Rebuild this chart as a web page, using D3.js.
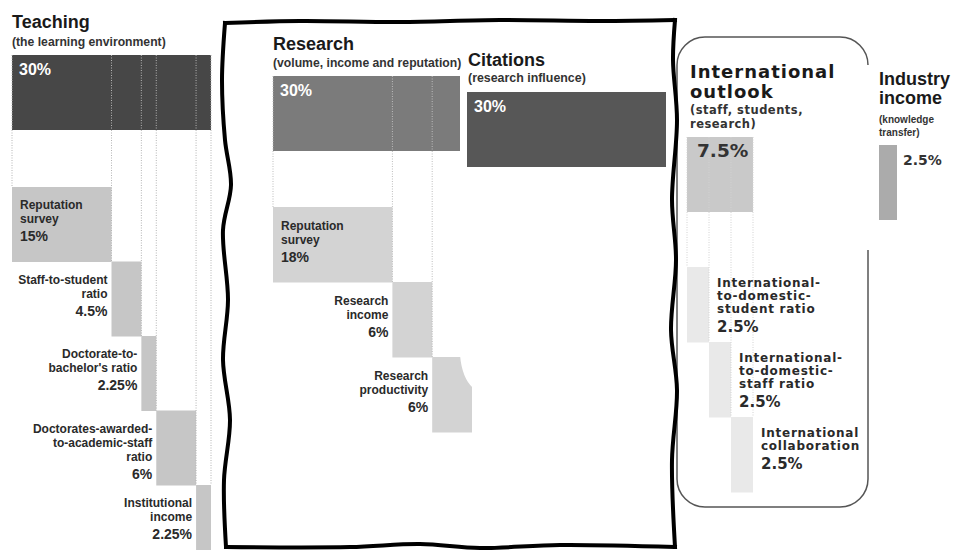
<!DOCTYPE html>
<html>
<head>
<meta charset="utf-8">
<script src="https://cdn.jsdelivr.net/npm/d3@7"></script>
<style>
  body { margin: 0; background: #fff; }
</style>
</head>
<body>
<script>
// pillar weights (percent of overall score)
const pillarNames = ["Teaching", "Research", "Citations", "International\noutlook", "Industry\nincome"];
const pillarNotes = ["(the learning environment)", "(volume, income and reputation)", "(research influence)", "(staff, students,\nresearch)", "(knowledge\ntransfer)"];
const pillarTotals = [30, 30, 30, 7.5, 2.5];

const teachingLabels = ["Reputation\nsurvey", "Staff-to-student\nratio", "Doctorate-to-\nbachelor's ratio", "Doctorates-awarded-\nto-academic-staff\nratio", "Institutional\nincome"];
const teachingWeights = [15, 4.5, 2.25, 6, 2.25];

const researchLabels = ["Reputation\nsurvey", "Research\nincome", "Research\nproductivity"];
const researchWeights = [18, 6, 6];

const intlLabels = ["International-\nto-domestic-\nstudent ratio", "International-\nto-domestic-\nstaff ratio", "International\ncollaboration"];
const intlWeights = [2.5, 2.5, 2.5];

const W = 955, H = 550;
const BAR_H = 75;
const SANS = "'Liberation Sans', Arial, sans-serif";
const WIDE = "'DejaVu Sans', Verdana, sans-serif";
const pct = v => v + "%";

const svg = d3.select("body").append("svg")
  .attr("width", W)
  .attr("height", H);

// clip for the research column (cut by the citations column)
svg.append("defs").append("clipPath")
  .attr("id", "researchClip")
  .append("path")
  .attr("d", "M0,0 H460 V355 Q462,378 473,388 H955 V550 H0 Z");

function multiline(sel, text, x, y, lh, anchor, font, size, fill, extra) {
  const t = sel.append("text")
    .attr("x", x).attr("y", y)
    .attr("text-anchor", anchor)
    .attr("font-family", font)
    .attr("font-size", size)
    .attr("font-weight", "bold")
    .attr("fill", fill);
  if (extra) extra(t);
  text.split("\n").forEach((line, i) => {
    t.append("tspan").attr("x", x).attr("dy", i === 0 ? 0 : lh).text(line);
  });
  return t;
}

function pillar(p) {
  const g = svg.append("g");
  const x = d3.scaleLinear().domain([0, p.total]).range(p.range);
  const cum = [0];
  p.weights.forEach(w => cum.push(cum[cum.length - 1] + w));
  const subY = i => p.top + BAR_H + p.gap + i * p.step;

  const bars = g.append("g");
  if (p.clip) bars.attr("clip-path", `url(#${p.clip})`);

  bars.append("rect")
    .attr("x", x(0)).attr("y", p.top)
    .attr("width", x(p.total) - x(0))
    .attr("height", BAR_H)
    .attr("fill", p.mainFill);

  bars.selectAll("rect.sub")
    .data(p.weights)
    .join("rect")
    .attr("class", "sub")
    .attr("x", (d, i) => x(cum[i]))
    .attr("y", (d, i) => subY(i))
    .attr("width", d => x(d) - x(0))
    .attr("height", p.step + 0.5)
    .attr("fill", p.subFill);

  // dotted guides from the pillar down to each component
  if (p.weights.length) {
    bars.selectAll("line.guide")
      .data(cum)
      .join("line")
      .attr("class", "guide")
      .attr("x1", d => x(d)).attr("x2", d => x(d))
      .attr("y1", p.top)
      .attr("y2", (d, k) => k < p.weights.length ? subY(k) : subY(k - 1))
      .attr("stroke", p.guide)
      .attr("stroke-width", 1)
      .attr("stroke-dasharray", "1,1.5");
  }

  // main percentage
  const m = p.mainLabel;
  g.append("text")
    .attr("x", m.anchorRight ? x(p.total) + m.dx : x(0) + m.dx)
    .attr("y", p.top + m.dy)
    .attr("font-family", m.font)
    .attr("font-size", m.size)
    .attr("font-weight", "bold")
    .attr("fill", m.fill)
    .text(pct(p.total));

  // titles
  multiline(g, p.name, p.titleX, p.titleY, p.titleLH, "start", p.titleFont, p.titleSize, "#1a1a1a", p.titleExtra);
  multiline(g, p.note, p.titleX, p.noteY, p.noteLH, "start", p.noteFont, p.noteSize, "#333", p.noteExtra);

  // component labels
  p.weights.forEach((w, i) => {
    const top = subY(i);
    let lx, anchor;
    if (p.labelSide === "right") { lx = x(cum[i + 1]) + 8; anchor = "start"; }
    else if (i === 0) { lx = x(0) + 8; anchor = "start"; }
    else { lx = x(cum[i]) - 4; anchor = "end"; }
    const lines = p.labels[i].split("\n");
    const y0 = top + p.labelDy;
    multiline(g, p.labels[i], lx, y0, p.labelLH, anchor, p.labelFont, p.labelSize, "#2a2a2a", p.labelExtra);
    g.append("text")
      .attr("x", lx)
      .attr("y", y0 + (lines.length - 1) * p.labelLH + p.pctGap)
      .attr("text-anchor", anchor)
      .attr("font-family", p.labelFont)
      .attr("font-size", p.pctSize)
      .attr("font-weight", "bold")
      .attr("fill", "#2a2a2a")
      .text(pct(w));
  });
}

const whiteMain = { dx: 7, dy: 20, size: 16, fill: "#fff", font: SANS };

pillar({
  name: pillarNames[0], note: pillarNotes[0], total: pillarTotals[0],
  weights: teachingWeights, labels: teachingLabels,
  range: [12, 211], top: 55, gap: 57, step: 74.5,
  mainFill: "#474747", subFill: "#c6c6c6", guide: "#b4b4b4",
  mainLabel: whiteMain,
  titleX: 12, titleY: 28, titleLH: 20, titleFont: SANS, titleSize: 18,
  noteY: 46, noteLH: 12, noteFont: SANS, noteSize: 12.2,
  labelDy: 22, labelLH: 14, labelFont: SANS, labelSize: 12, pctSize: 14, pctGap: 18
});

pillar({
  name: pillarNames[1], note: pillarNotes[1], total: pillarTotals[1],
  weights: researchWeights, labels: researchLabels,
  range: [273, 472], top: 76, gap: 56, step: 75, clip: "researchClip",
  mainFill: "#7b7b7b", subFill: "#d3d3d3", guide: "#bdbdbd",
  mainLabel: whiteMain,
  titleX: 273, titleY: 50, titleLH: 20, titleFont: SANS, titleSize: 18,
  noteY: 67, noteLH: 12, noteFont: SANS, noteSize: 12.2,
  labelDy: 23, labelLH: 14, labelFont: SANS, labelSize: 12, pctSize: 14, pctGap: 18
});

pillar({
  name: pillarNames[2], note: pillarNotes[2], total: pillarTotals[2],
  weights: [], labels: [],
  range: [467, 666], top: 92, gap: 0, step: 0,
  mainFill: "#575757", subFill: "#575757", guide: "#999",
  mainLabel: whiteMain,
  titleX: 468, titleY: 66, titleLH: 20, titleFont: SANS, titleSize: 18,
  noteY: 82, noteLH: 12, noteFont: SANS, noteSize: 12.4
});

pillar({
  name: pillarNames[3], note: pillarNotes[3], total: pillarTotals[3],
  weights: intlWeights, labels: intlLabels,
  range: [687, 753], top: 137, gap: 55, step: 75,
  mainFill: "#c9c9c9", subFill: "#e9e9e9", guide: "#d2d2d2",
  mainLabel: { dx: 10, dy: 20, size: 18.5, fill: "#333", font: WIDE },
  titleX: 690, titleY: 78, titleLH: 20, titleFont: WIDE, titleSize: 18,
  titleExtra: t => t.attr("letter-spacing", 1),
  noteY: 114, noteLH: 14, noteFont: WIDE, noteSize: 11.5,
  noteExtra: t => t.attr("letter-spacing", 0.5),
  labelSide: "right",
  labelDy: 20, labelLH: 13, labelFont: WIDE, labelSize: 12, pctSize: 15, pctGap: 19,
  labelExtra: t => t.attr("letter-spacing", 0.75)
});

pillar({
  name: pillarNames[4], note: pillarNotes[4], total: pillarTotals[4],
  weights: [], labels: [],
  range: [879, 897], top: 145, gap: 0, step: 0,
  mainFill: "#ababab", subFill: "#ababab", guide: "#999",
  mainLabel: { dx: 6, dy: 20, size: 14, fill: "#333", font: WIDE, anchorRight: true },
  titleX: 879, titleY: 85, titleLH: 19, titleFont: SANS, titleSize: 18,
  noteY: 123, noteLH: 13, noteFont: SANS, noteSize: 10
});

// rounded outline around international outlook (open on the right next to industry income)
const ib = { l: 677, r: 868, t: 37, b: 507, rad: 28 };
svg.append("path")
  .attr("d", `M${ib.r},250 V${ib.b - ib.rad} A${ib.rad},${ib.rad} 0 0 1 ${ib.r - ib.rad},${ib.b}
    H${ib.l + ib.rad} A${ib.rad},${ib.rad} 0 0 1 ${ib.l},${ib.b - ib.rad}
    V${ib.t + ib.rad} A${ib.rad},${ib.rad} 0 0 1 ${ib.l + ib.rad},${ib.t}
    H${ib.r - ib.rad} A${ib.rad},${ib.rad} 0 0 1 ${ib.r},${ib.t + ib.rad}`)
  .attr("fill", "none")
  .attr("stroke", "#555")
  .attr("stroke-width", 1.5);

// hand-drawn frame around research + citations, one wavy stroke per side
const frameSides = [
  [[225, 23], [300, 21], [400, 22], [500, 20], [600, 21], [675, 20]],
  [[675, 20], [673, 60], [677, 120], [672, 200], [676, 260], [671, 330], [677, 390], [672, 460], [675, 547]],
  [[675, 547], [560, 545], [480, 548], [420, 544], [350, 547], [226, 547]],
  [[226, 547], [224, 480], [230, 420], [223, 360], [228, 300], [223, 230], [231, 185], [225, 140], [222, 80], [225, 23]]
];
svg.selectAll("path.frame")
  .data(frameSides)
  .join("path")
  .attr("class", "frame")
  .attr("d", d3.line().curve(d3.curveCatmullRom.alpha(0.5)))
  .attr("fill", "none")
  .attr("stroke", "#000")
  .attr("stroke-width", 4)
  .attr("stroke-linecap", "square");
</script>
</body>
</html>
